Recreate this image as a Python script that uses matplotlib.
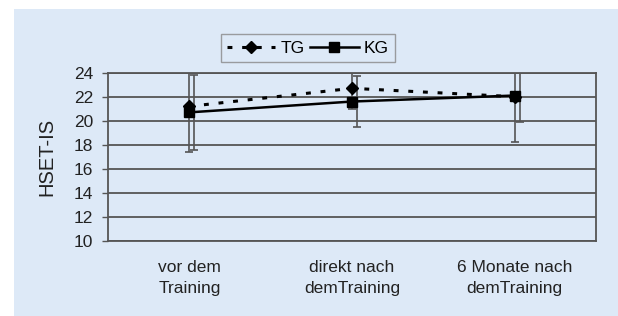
#!/usr/bin/env python3
import numpy as np
import matplotlib.pyplot as plt

plt.rcParams['font.family'] = ['Liberation Sans', 'DejaVu Sans']

categories = ["vor dem\nTraining", "direkt nach\ndemTraining", "6 Monate nach\ndemTraining"]
tg_mean = [21.2, 22.7, 22.0]
tg_sd = [3.8, 1.7, 3.8]
kg_mean = [20.7, 21.6, 22.1]
kg_sd = [3.1, 2.1, 2.2]
yticks = [10, 12, 14, 16, 18, 20, 22, 24]

bg = '#dde9f7'
grid_c = '#555555'
txt_c = '#222222'

fig = plt.figure(figsize=(6.18, 3.16), dpi=100, facecolor='white')
# blue panel behind the chart
fig.patches.append(plt.Rectangle((14/618, 0), 1, 1 - 9/316, transform=fig.transFigure,
                                 facecolor=bg, edgecolor='none', zorder=-1))

ax = fig.add_axes([0.1748, 0.2373, 0.7896, 0.5327])
ax.set_facecolor(bg)
x = np.arange(len(categories))

ax.errorbar(x, tg_mean, yerr=tg_sd, fmt='none', ecolor=grid_c, elinewidth=1.2,
            capsize=3, capthick=1.2, zorder=3)
ax.errorbar(x + 0.03, kg_mean, yerr=kg_sd, fmt='none', ecolor=grid_c, elinewidth=1.2,
            capsize=3, capthick=1.2, zorder=3)
ax.plot(x, tg_mean, color='black', linestyle=(0, (1.6, 3.2)), lw=2.2,
        marker='D', markersize=6, label='TG', zorder=4)
ax.plot(x, kg_mean, color='black', linestyle='-', lw=1.8,
        marker='s', markersize=7, label='KG', zorder=4)

ax.set_xlim(-0.5, 2.5)
ax.set_ylim(10, 24)
ax.set_yticks(yticks)
ax.set_xticks(x)
ax.set_xticklabels(categories, fontsize=12.5, color=txt_c, linespacing=1.45)
ax.tick_params(axis='x', length=0, pad=14)
ax.tick_params(axis='y', length=4.5, width=1, color=grid_c, labelsize=12.5,
               pad=6, labelcolor=txt_c)
ax.yaxis.grid(True, color=grid_c, lw=1.3)
ax.set_axisbelow(True)
for s in ax.spines.values():
    s.set_color(grid_c)
    s.set_linewidth(1.3)
ax.set_ylabel("HSET-IS", fontsize=14.5, color=txt_c, labelpad=13)

fig.legend(loc='center', bbox_to_anchor=(0.498, 0.848), ncol=2, frameon=True,
           fancybox=False, edgecolor='#888888', facecolor=bg, fontsize=12.5,
           handlelength=2.8, columnspacing=0.3, handletextpad=0.3,
           borderpad=0.35)

plt.savefig("out.png", dpi=100, facecolor='white')
